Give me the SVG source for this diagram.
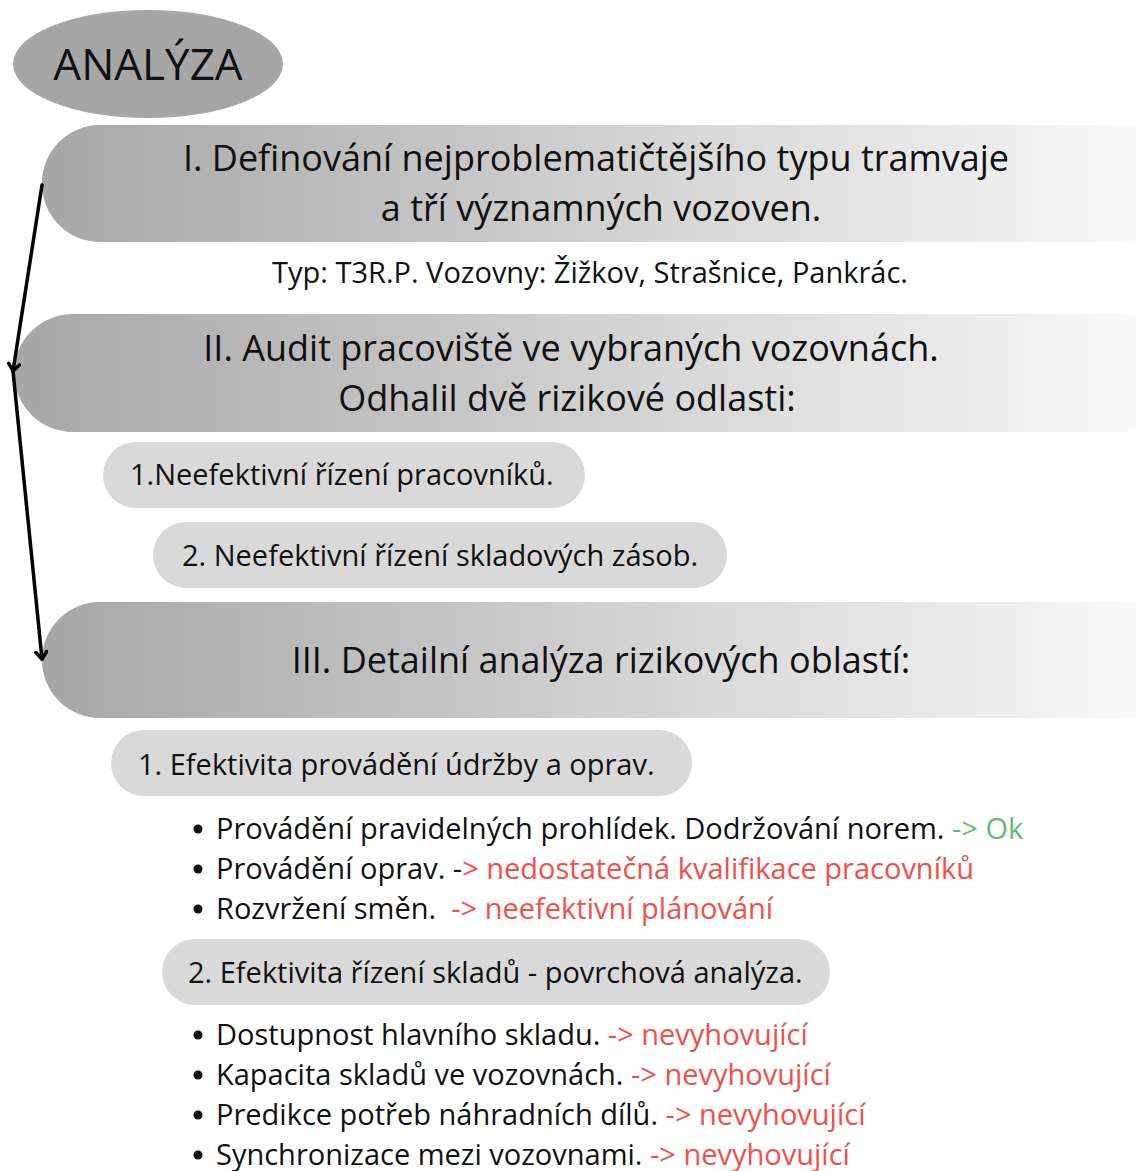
<svg xmlns="http://www.w3.org/2000/svg" width="1137" height="1171" viewBox="0 0 1137 1171">
<defs>
<linearGradient id="fade" x1="0" y1="0" x2="1" y2="0">
<stop offset="0" stop-color="#a6a6a6"/>
<stop offset="0.55" stop-color="#d6d6d6"/>
<stop offset="0.85" stop-color="#eeeeee"/>
<stop offset="1" stop-color="#ffffff"/>
</linearGradient>
<marker id="arr" viewBox="0 0 14 14" refX="12" refY="7" markerWidth="14" markerHeight="14" markerUnits="userSpaceOnUse" orient="auto">
<path d="M5,1.5 L12,7 L5,12.5" fill="none" stroke="#000" stroke-width="3.5" stroke-linecap="round" stroke-linejoin="round"/>
</marker>
</defs>
<style>
text{font-family:"Open Sans","Noto Sans","DejaVu Sans",sans-serif;fill:#111111}
.big{font-size:36px}
.mid{font-size:29px}
.pill{fill:#d9d9d9}
.red{fill:#f0504a}
.green{fill:#5fbf6b}
.c{text-anchor:middle}
.dot{fill:#111111}
</style>
<rect width="1137" height="1171" fill="#ffffff"/>
<g id="analyza">
<ellipse cx="148" cy="64" rx="135" ry="54" fill="#a6a6a6"/>
<text x="148" y="80" class="c" font-size="44">ANALÝZA</text>
</g>
<g id="step1">
<rect x="42" y="125" width="1140" height="117" rx="58" fill="url(#fade)"/>
<text x="596" y="171" class="big c">I. Definování nejproblematičtějšího typu tramvaje</text>
<text x="601" y="221" class="big c">a tří významných vozoven.</text>
</g>
<g id="step1-note">
<text x="590" y="283" class="mid c">Typ: T3R.P. Vozovny: Žižkov, Strašnice, Pankrác.</text>
</g>
<g id="step2">
<rect x="14" y="314" width="1168" height="118" rx="59" fill="url(#fade)"/>
<text x="571" y="361" class="big c">II. Audit pracoviště ve vybraných vozovnách.</text>
<text x="567" y="411" class="big c">Odhalil dvě rizikové odlasti:</text>
</g>
<g id="risk1">
<rect x="103" y="442" width="482" height="66" rx="33" class="pill"/>
<text x="130" y="485" class="mid">1.Neefektivní řízení pracovníků.</text>
</g>
<g id="risk2">
<rect x="153" y="522" width="574" height="66" rx="33" class="pill"/>
<text x="182" y="566" class="mid">2. Neefektivní řízení skladových zásob.</text>
</g>
<g id="step3">
<rect x="42" y="602" width="1140" height="116" rx="58" fill="url(#fade)"/>
<text x="601" y="673" class="big c">III. Detailní analýza rizikových oblastí:</text>
</g>
<g id="detail1">
<rect x="111" y="730" width="581" height="66" rx="33" class="pill"/>
<text x="138" y="775" class="mid">1. Efektivita provádění údržby a oprav.</text>
</g>
<g id="detail1-items">
<circle cx="198" cy="829" r="4.5" class="dot"/>
<circle cx="198" cy="869" r="4.5" class="dot"/>
<circle cx="198" cy="909" r="4.5" class="dot"/>
<text x="216" y="839" class="mid">Provádění pravidelných prohlídek. Dodržování norem. <tspan class="green">-&gt; Ok</tspan></text>
<text x="216" y="879" class="mid">Provádění oprav. -<tspan class="red">&gt; nedostatečná kvalifikace pracovníků</tspan></text>
<text x="216" y="919" class="mid" xml:space="preserve">Rozvržení směn.  <tspan class="red">-&gt; neefektivní plánování</tspan></text>
</g>
<g id="detail2">
<rect x="162" y="939" width="668" height="66" rx="33" class="pill"/>
<text x="188" y="983" class="mid">2. Efektivita řízení skladů - povrchová analýza.</text>
</g>
<g id="detail2-items">
<circle cx="198" cy="1035" r="4.5" class="dot"/>
<circle cx="198" cy="1075" r="4.5" class="dot"/>
<circle cx="198" cy="1115" r="4.5" class="dot"/>
<circle cx="198" cy="1155" r="4.5" class="dot"/>
<text x="216" y="1045" class="mid">Dostupnost hlavního skladu. <tspan class="red">-&gt; nevyhovující</tspan></text>
<text x="216" y="1085" class="mid">Kapacita skladů ve vozovnách. <tspan class="red">-&gt; nevyhovující</tspan></text>
<text x="216" y="1125" class="mid">Predikce potřeb náhradních dílů. <tspan class="red">-&gt; nevyhovující</tspan></text>
<text x="216" y="1165" class="mid">Synchronizace mezi vozovnami. <tspan class="red">-&gt; nevyhovující</tspan></text>
</g>
<g id="connectors" fill="none" stroke="#000" stroke-width="3.5" stroke-linecap="round">
<path d="M42,185 L13,371" marker-end="url(#arr)"/>
<path d="M13,371 L42,659" marker-end="url(#arr)"/>
</g>
</svg>
